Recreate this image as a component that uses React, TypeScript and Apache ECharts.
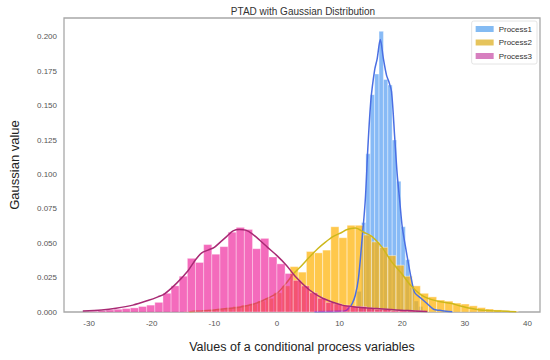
import React, { useEffect, useRef } from "react";
import * as echarts from "echarts";

// ---- data ----
const xTicks = [-30, -20, -10, 0, 10, 20, 30, 40];
const yTicks = [0, 0.025, 0.05, 0.075, 0.1, 0.125, 0.15, 0.175, 0.2];

// Process1 histogram (blue)
const p1BinWidth = 0.7;
const p1BinStarts = [12.8, 13.5, 14.2, 14.9, 15.6, 16.3, 17.0, 17.7, 18.4, 19.1, 19.8, 20.5, 21.2, 21.9, 22.6];
const p1BinHeights = [0.015, 0.065, 0.115, 0.158, 0.173, 0.204, 0.169, 0.165, 0.125, 0.095, 0.062, 0.038, 0.018, 0.008, 0.004];

// Process2 histogram (yellow)
const p2BinWidth = 1.3;
const p2BinStarts = [-14.8, -13.5, -12.2, -10.9, -9.6, -8.3, -7.0, -5.7, -4.4, -3.1, -1.8, -0.5, 0.8, 2.1, 3.4, 4.7, 6.0, 7.3, 8.6, 9.9, 11.2, 12.5, 13.8, 15.1, 16.4, 17.7, 19.0, 20.3, 21.6, 22.9, 24.2, 25.5, 26.8, 28.1, 29.4, 30.7, 32.0, 33.3, 34.6, 35.9, 37.2];
const p2BinHeights = [0.0005, 0.001, 0.001, 0.0015, 0.002, 0.003, 0.004, 0.005, 0.006, 0.008, 0.010, 0.014, 0.019, 0.033, 0.029, 0.044, 0.043, 0.045, 0.062, 0.054, 0.063, 0.063, 0.056, 0.051, 0.047, 0.041, 0.034, 0.026, 0.019, 0.0136, 0.011, 0.0087, 0.0079, 0.0065, 0.0058, 0.0045, 0.0032, 0.0022, 0.0015, 0.001, 0.0006];

// Process3 histogram (pink)
const p3BinWidth = 1.3;
const p3BinStarts = [-29.9, -28.6, -27.3, -26.0, -24.7, -23.4, -22.1, -20.8, -19.5, -18.2, -16.9, -15.6, -14.3, -13.0, -11.7, -10.4, -9.1, -7.8, -6.5, -5.2, -3.9, -2.6, -1.3, 0.0, 1.3, 2.6, 3.9, 5.2, 6.5, 7.8, 9.1, 10.4, 11.7, 13.0, 14.3, 15.6, 16.9, 18.2, 19.5, 20.8, 22.1];
const p3BinHeights = [0.0005, 0.001, 0.0015, 0.002, 0.0025, 0.003, 0.004, 0.005, 0.007, 0.0136, 0.019, 0.026, 0.039, 0.036, 0.049, 0.042, 0.0475, 0.058, 0.0615, 0.060, 0.046, 0.0535, 0.040, 0.035, 0.028, 0.023, 0.019, 0.014, 0.010, 0.007, 0.006, 0.005, 0.004, 0.004, 0.003, 0.002, 0.002, 0.001, 0.001, 0.001, 0.001];

// Gaussian (KDE) curves
const p1CurveX = [6, 10, 11, 11.5, 12, 12.5, 13, 13.5, 14.1, 14.5, 15.0, 15.6, 16.0, 16.5, 17.0, 17.5, 17.9, 18.3, 18.8, 19.2, 19.6, 20.0, 20.5, 21.0, 21.5, 22.0, 23.0, 24.0, 25.0, 26.0, 27.0, 28.0];
const p1CurveY = [0.0002, 0.0005, 0.001, 0.003, 0.006, 0.012, 0.024, 0.048, 0.081, 0.118, 0.154, 0.176, 0.184, 0.198, 0.184, 0.172, 0.167, 0.16, 0.127, 0.10, 0.081, 0.062, 0.048, 0.035, 0.023, 0.014, 0.010, 0.006, 0.002, 0.0012, 0.0005, 0.0002];

const p2CurveX = [-14, -12, -10, -8, -6, -4, -2.7, -1.5, 0, 1.5, 2.6, 4, 5.2, 6.5, 7.8, 9, 10.4, 11, 12.5, 13.85, 15.15, 16.7, 18.3, 19.9, 21.4, 23, 24.6, 26.1, 27.7, 29.3, 30.9, 32.4, 34, 35.6, 38.2];
const p2CurveY = [0.0002, 0.0008, 0.0015, 0.0025, 0.0035, 0.0055, 0.0075, 0.010, 0.0136, 0.021, 0.0276, 0.034, 0.040, 0.046, 0.051, 0.055, 0.058, 0.0596, 0.061, 0.058, 0.055, 0.0475, 0.0366, 0.028, 0.019, 0.0125, 0.0092, 0.0075, 0.0063, 0.0044, 0.0027, 0.0015, 0.001, 0.0007, 0.0002];

const p3CurveX = [-31, -28, -25.7, -23, -20.5, -19, -18, -16, -14.2, -13, -12, -11, -10, -9, -8, -7, -6, -5, -4, -2.7, -1.5, 0, 1.5, 3.1, 5.2, 7.3, 10.4, 13, 16, 19, 22, 24];
const p3CurveY = [0.0008, 0.0015, 0.0027, 0.005, 0.0085, 0.011, 0.013, 0.021, 0.030, 0.038, 0.043, 0.045, 0.047, 0.051, 0.055, 0.059, 0.060, 0.0595, 0.057, 0.052, 0.047, 0.041, 0.034, 0.025, 0.016, 0.010, 0.005, 0.0035, 0.0025, 0.0015, 0.0008, 0.0003];

const seriesNames = ["Process1", "Process2", "Process3"];

const FONT = "'Liberation Sans', Arial, sans-serif";

function histData(starts: number[], heights: number[], w: number) {
  return starts.map((s, i) => [s, s + w, heights[i]]);
}
function curveData(xs: number[], ys: number[]) {
  return xs.map((x, i) => [x, ys[i]]);
}

function histSeries(name: string, data: number[][], color: string, opacity: number, z: number) {
  return {
    type: "custom",
    name,
    clip: true,
    z,
    encode: { x: [0, 1], y: 2 },
    itemStyle: { color },
    data,
    renderItem: (params: any, api: any) => {
      const x0 = api.value(0);
      const x1 = api.value(1);
      const h = api.value(2);
      const p0 = api.coord([x0, 0]);
      const p1 = api.coord([x1, h]);
      return {
        type: "rect",
        shape: { x: p0[0], y: p1[1], width: p1[0] - p0[0], height: p0[1] - p1[1] },
        style: { fill: color, opacity, stroke: "#ffffff", lineWidth: 0.6 },
      };
    },
  };
}

function lineSeries(name: string, data: number[][], color: string, z: number) {
  return {
    type: "line",
    name,
    data,
    smooth: 0.3,
    showSymbol: false,
    symbol: "none",
    lineStyle: { color, width: 1.5 },
    itemStyle: { color },
    z,
  };
}

export default function App() {
  const ref = useRef<HTMLDivElement>(null);
  useEffect(() => {
    document.body.style.margin = "0";
    if (!ref.current) return;
    const chart = echarts.init(ref.current, undefined, { renderer: "svg" });
    const option: any = {
      animation: false,
      backgroundColor: "#ffffff",
      title: {
        text: "PTAD with Gaussian Distribution",
        left: 298,
        top: 1,
        textAlign: "center",
        textStyle: { fontSize: 10, fontWeight: "normal", color: "#333", fontFamily: FONT },
      },
      legend: {
        orient: "vertical",
        right: 13,
        top: 21,
        itemWidth: 18,
        itemHeight: 6,
        itemGap: 5.5,
        padding: [4, 5, 4, 4],
        backgroundColor: "#ffffff",
        borderColor: "#dddddd",
        borderWidth: 0.8,
        borderRadius: 2,
        icon: "rect",
        textStyle: { fontSize: 8, color: "#333", fontFamily: FONT },
        data: [
          { name: seriesNames[0], itemStyle: { color: "#84bbf3" } },
          { name: seriesNames[1], itemStyle: { color: "#e6c45c" } },
          { name: seriesNames[2], itemStyle: { color: "#d77fbf" } },
        ],
      },
      grid: {
        left: 57,
        right: 10,
        top: 18,
        bottom: 48,
        show: true,
        borderColor: "#a8a8a8",
        borderWidth: 1.3,
        backgroundColor: "transparent",
      },
      xAxis: {
        type: "value",
        min: -34,
        max: 42,
        axisLine: { show: false },
        axisTick: { show: false },
        splitLine: { show: false },
        axisLabel: { customValues: xTicks, fontSize: 8, color: "#555", margin: 7, fontFamily: FONT },
        name: "Values of a conditional process variables",
        nameLocation: "middle",
        nameGap: 28,
        nameTextStyle: { fontSize: 12.5, color: "#222", fontFamily: FONT },
      },
      yAxis: {
        type: "value",
        min: 0,
        max: 0.2137,
        axisLine: { show: false },
        axisTick: { show: false },
        splitLine: { show: false },
        axisLabel: {
          customValues: yTicks,
          fontSize: 8,
          color: "#555",
          margin: 7,
          fontFamily: FONT,
          formatter: (v: number) => v.toFixed(3),
        },
        name: "Gaussian value",
        nameLocation: "middle",
        nameGap: 43,
        nameTextStyle: { fontSize: 13, color: "#222", fontFamily: FONT },
      },
      series: [
        histSeries(seriesNames[0], histData(p1BinStarts, p1BinHeights, p1BinWidth), "#3d8ff0", 0.62, 1),
        histSeries(seriesNames[1], histData(p2BinStarts, p2BinHeights, p2BinWidth), "#ffb000", 0.7, 1),
        lineSeries("Process1 curve", curveData(p1CurveX, p1CurveY), "#4a6fe3", 2),
        lineSeries("Process2 curve", curveData(p2CurveX, p2CurveY), "#cdb81c", 2),
        histSeries(seriesNames[2], histData(p3BinStarts, p3BinHeights, p3BinWidth), "#ec008c", 0.58, 3),
        lineSeries("Process3 curve", curveData(p3CurveX, p3CurveY), "#a82a74", 4),
      ],
    };
    chart.setOption(option);
    return () => chart.dispose();
  }, []);
  return <div ref={ref} style={{ width: 550, height: 360 }} />;
}
